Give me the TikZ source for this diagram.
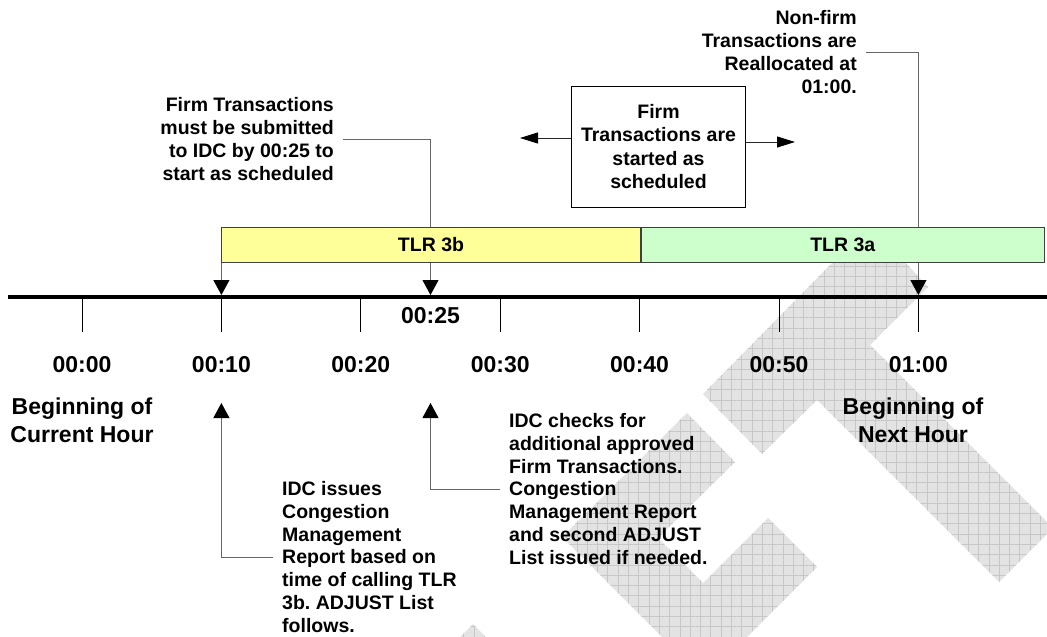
\documentclass[tikz,border=0pt]{standalone}
\usepackage{fontspec}
\setmainfont{Liberation Sans}
\usetikzlibrary{arrows.meta,positioning,patterns.meta}
\definecolor{yellowbar}{HTML}{FFFF99}
\definecolor{greenbar}{HTML}{CCFFCC}
\frenchspacing

\begin{document}
\begin{tikzpicture}[x=1pt,y=-1pt,
  >={Triangle[width=16pt,length=15pt,color=black]},
  every node/.style={font=\bfseries\fontsize{19.5}{23.2}\selectfont},
  big/.style={font=\bfseries\fontsize{23}{28}\selectfont},
  low/.style={font=\bfseries\fontsize{19.5}{22.8}\selectfont},
  note/.style={inner xsep=9pt,inner ysep=0pt},
  bar/.style={draw=black!75,line width=1pt,minimum height=35pt,inner sep=0pt},
  call/.style={draw=black!60,line width=1pt},
  side/.style={draw=black!85,line width=1pt,-{Triangle[width=11pt,length=18pt,color=black]}},
  wm/.style={preaction={fill=black!11},pattern={Hatch[distance=10.3pt,angle=0,line width=0.6pt]},pattern color=black!22}
]
  \useasboundingbox (0,0) rectangle (1047,637);

  % watermark
  \path[wm] (833,262) -- (905,262) -- (928,287) -- (870,345) -- (1047,522) -- (1047,534)
    -- (999,582) -- (817,400) -- (762,454) -- (703,394) -- cycle;
  \path[wm] (687,413) -- (735,462) -- (658,538) -- (703,583) -- (768,518) -- (817,567)
    -- (747,637) -- (662,637) -- (562,537) -- cycle;
  \path[wm] (460,637) -- (473,624) -- (486,637) -- cycle;

  % arrow ends
  \coordinate (a10) at (221.4,295);
  \coordinate (a25) at (430.5,295);
  \coordinate (a60) at (918.4,295);
  \coordinate (u10) at (221.4,403);
  \coordinate (u25) at (430.5,403);

  % notes above the bars
  \node[note,align=right,anchor=east] (submit) at (343,139)
    {Firm Transactions\\must be submitted\\to IDC by 00:25 to\\start as scheduled};
  \node[note,align=right,anchor=east] (realloc) at (866,52)
    {Non-firm\\Transactions are\\Reallocated at\\01:00.};
  \draw[call,->] (submit.east) -| (a25);
  \draw[call,->] (realloc.east) -| (a60);

  \node[draw,line width=1pt,align=center,minimum width=174pt,minimum height=121pt,inner sep=0pt]
    (firm) at (658.5,146.5) {Firm\\Transactions are\\started as\\scheduled};
  \coordinate (fl) at (520,138);
  \coordinate (fr) at (795,142);
  \draw[side] (firm.west |- fl) -- (fl);
  \draw[side] (firm.east |- fr) -- (fr);

  % TLR bars
  \node[bar,fill=yellowbar,minimum width=418.2pt,anchor=north west] (b3b) at (221.4,227) {TLR 3b};
  \node[bar,fill=greenbar,minimum width=403.4pt,right=0pt of b3b] (b3a) {TLR 3a};
  \draw[call,->] (b3b.south west) -- (a10);

  % time axis
  \coordinate (axl) at (8,297);
  \coordinate (axr) at (1047,297);
  \foreach \t [count=\i from 0] in {00:00,00:10,00:20,00:30,00:40,00:50,01:00} {
    \coordinate (t\i) at (82+139.4*\i,297);
    \draw[line width=1pt] (t\i) -- ++(0,35);
    \node[big,anchor=base] (l\i) at (82+139.4*\i,372) {\t};
  }
  \draw[line width=4pt] (axl) -- (axr);
  \node[big,anchor=base] (l25) at (430.5,323) {00:25};

  \node[big,align=center] (cur) at (82,420) {Beginning of\\Current Hour};
  \node[big,align=center] (nxt) at (913,420) {Beginning of\\Next Hour};

  % notes below the axis
  \node[low,note,align=left,anchor=west] (issues) at (273,557)
    {IDC issues\\Congestion\\Management\\Report based on\\time of calling TLR\\3b. ADJUST List\\follows.};
  \node[low,note,align=left,anchor=west] (checks) at (500,489)
    {IDC checks for\\additional approved\\Firm Transactions.\\Congestion\\Management Report\\and second ADJUST\\List issued if needed.};
  \draw[call,->] (issues.west) -| (u10);
  \draw[call,->] (checks.west) -| (u25);
\end{tikzpicture}
\end{document}
